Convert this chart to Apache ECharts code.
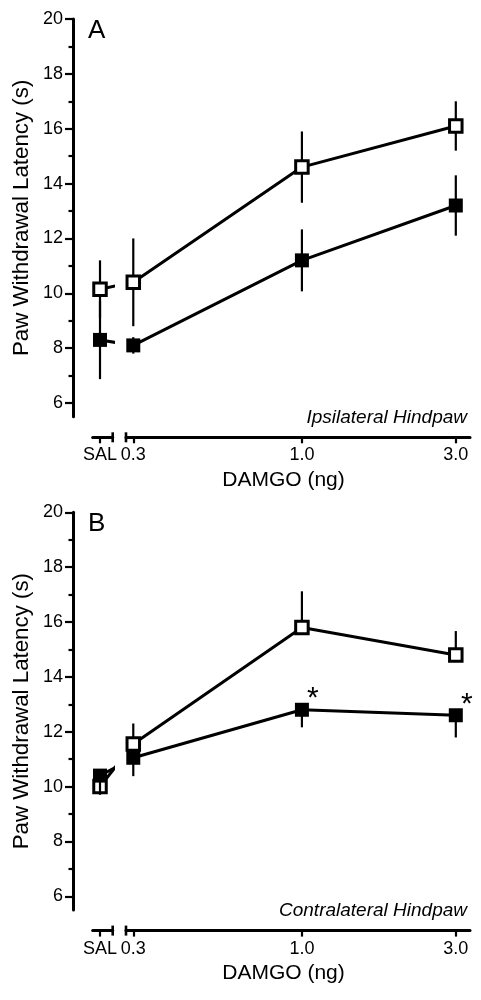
<!DOCTYPE html>
<html><head><meta charset="utf-8">
<script src="https://cdn.jsdelivr.net/npm/echarts@6/dist/echarts.min.js"></script>
<style>html,body{margin:0;padding:0;background:#fff}#c{width:481px;height:1000px}</style>
</head><body><div id="c"></div>
<script>
// ---------- data ----------
const xLabels = ['SAL', '0.3', '1.0', '3.0'];
const doses = [0.3, 1.0, 3.0];
const yTicks = [6, 8, 10, 12, 14, 16, 18, 20];
const yMinorTicks = [7, 9, 11, 13, 15, 17, 19];

// Panel A – Ipsilateral hindpaw (SAL, 0.3, 1.0, 3.0)
const aOpen = [10.15, 10.4, 14.6, 16.1];
const aOpenSem = [1.05, 1.6, 1.3, 0.9];
const aFilled = [8.3, 8.1, 11.2, 13.2];
const aFilledSem = [1.43, 0.3, 1.13, 1.1];

// Panel B – Contralateral hindpaw (SAL, 0.3, 1.0, 3.0)
const bOpen = [10.0, 11.55, 15.8, 14.8];
const bOpenSem = [0.3, 0.75, 1.32, 0.87];
const bFilled = [10.4, 11.05, 12.8, 12.6];
const bFilledSem = [0.7, 0.67, 0.64, 0.81];
const bFilledSig = ['', '', '*', '*'];

// ---------- layout ----------
const FONT = 'Liberation Sans, Arial, sans-serif';
const SAL_POS = 0.2365;           // where SAL sits on the (broken) log axis
const SAL_RANGE = [0.2245, 0.2589];
const DOSE_RANGE = [0.2848, 3.32];
const Y_RANGE = [5.5, 20];
const PLOT_H = 397.7;

const panels = [
  { top: 19, letter: 'A', note: 'Ipsilateral Hindpaw',
    open: aOpen, openSem: aOpenSem, filled: aFilled, filledSem: aFilledSem,
    openDir: 'both', filledDir: 'both', sig: null },
  { top: 512.3, letter: 'B', note: 'Contralateral Hindpaw',
    open: bOpen, openSem: bOpenSem, filled: bFilled, filledSem: bFilledSem,
    openDir: 'up', filledDir: 'down', sig: bFilledSig }
];

const option = {
  animation: false,
  backgroundColor: '#fff',
  textStyle: { fontFamily: FONT, color: '#000' },
  grid: [], xAxis: [], yAxis: [], series: [], title: []
};

function labelFor(v) {
  let best = 0, bd = Infinity;
  doses.forEach((d, i) => { const dd = Math.abs(Math.log(d) - Math.log(v)); if (dd < bd) { bd = dd; best = i; } });
  return xLabels[best + 1];
}

const axisLineStyle = { color: '#000', width: 3 };
const tickStyle = { color: '#000', width: 2.2 };

panels.forEach((p, k) => {
  const gS = 2 * k, gM = 2 * k + 1;
  option.grid.push({ left: 92.7, top: p.top, width: 20, height: PLOT_H, outerBoundsMode: 'none' });
  option.grid.push({ left: 126, top: p.top, width: 344, height: PLOT_H, outerBoundsMode: 'none' });

  // x axes (broken)
  option.xAxis.push({
    gridIndex: gS, type: 'log', logBase: 10, min: SAL_RANGE[0], max: SAL_RANGE[1],
    position: 'bottom', offset: 20.6,
    axisLine: { show: true, onZero: false, symbol: ['none', 'rect'], symbolSize: [10, 2.6], lineStyle: axisLineStyle },
    axisTick: { show: true, customValues: [SAL_POS], length: 6, lineStyle: tickStyle },
    axisLabel: { show: true, customValues: [SAL_POS], formatter: () => xLabels[0], margin: 9, fontSize: 18, color: '#000', fontFamily: FONT },
    splitLine: { show: false }, minorTick: { show: false }, minorSplitLine: { show: false }
  });
  option.xAxis.push({
    gridIndex: gM, type: 'log', logBase: 10, min: DOSE_RANGE[0], max: DOSE_RANGE[1],
    position: 'bottom', offset: 20.6,
    axisLine: { show: true, onZero: false, symbol: ['rect', 'none'], symbolSize: [10, 2.6], lineStyle: axisLineStyle },
    axisTick: { show: true, customValues: doses, length: 6, lineStyle: tickStyle },
    axisLabel: { show: true, customValues: doses, formatter: v => labelFor(v), margin: 9, fontSize: 18, color: '#000', fontFamily: FONT },
    splitLine: { show: false }, minorTick: { show: false }, minorSplitLine: { show: false },
    name: 'DAMGO (ng)', nameLocation: 'middle', nameGap: 32,
    nameTextStyle: { fontSize: 21, color: '#000', fontFamily: FONT, padding: [0, 29, 0, 0] }
  });

  // y axes
  option.yAxis.push({
    gridIndex: gS, type: 'value', min: Y_RANGE[0], max: Y_RANGE[1], position: 'left', offset: 19.7,
    axisLine: { show: true, onZero: false, lineStyle: axisLineStyle },
    axisTick: { show: true, customValues: yTicks, length: 8, lineStyle: tickStyle },
    axisLabel: { show: true, customValues: yTicks, margin: 10, fontSize: 18, color: '#000', fontFamily: FONT },
    splitLine: { show: false },
    name: 'Paw Withdrawal Latency (s)', nameLocation: 'middle', nameGap: 40,
    nameTextStyle: { fontSize: 22.3, color: '#000', fontFamily: FONT }
  });
  option.yAxis.push({
    gridIndex: gS, type: 'value', min: Y_RANGE[0], max: Y_RANGE[1], position: 'left', offset: 19.7,
    axisLine: { show: false },
    axisTick: { show: true, customValues: yMinorTicks, length: 4.5, lineStyle: tickStyle },
    axisLabel: { show: false }, splitLine: { show: false }
  });
  option.yAxis.push({
    gridIndex: gM, type: 'value', min: Y_RANGE[0], max: Y_RANGE[1], show: false,
    splitLine: { show: false }
  });

  const xS = gS, xM = gM, yS = 3 * k, yM = 3 * k + 2;

  function errSeries(xi, yi, rows, dir, z) {
    return {
      type: 'custom', xAxisIndex: xi, yAxisIndex: yi, z: z, silent: true,
      data: rows,
      encode: { x: 0, y: 1 },
      renderItem: (params, api) => {
        const x = api.value(0), y = api.value(1), e = api.value(2);
        const hi = api.coord([x, dir === 'down' ? y : y + e]);
        const lo = api.coord([x, dir === 'up' ? y : y - e]);
        return { type: 'line', shape: { x1: hi[0], y1: hi[1], x2: lo[0], y2: lo[1] },
                 style: { stroke: '#000', lineWidth: 2.2 } };
      }
    };
  }

  function groupSeries(vals, sems, dir, filled, zBase, sig) {
    const sym = filled
      ? { symbol: 'rect', symbolSize: 14, itemStyle: { color: '#000', borderWidth: 0 } }
      : { symbol: 'rect', symbolSize: 12.5, itemStyle: { color: '#fff', borderColor: '#000', borderWidth: 3 } };
    const out = [];
    // error bars
    out.push(errSeries(xM, yM, doses.map((d, i) => [d, vals[i + 1], sems[i + 1]]), dir, zBase));
    out.push(errSeries(xS, yS, [[SAL_POS, vals[0], sems[0]]], dir, zBase));
    // dose-response line with markers
    out.push(Object.assign({
      type: 'line', xAxisIndex: xM, yAxisIndex: yM, z: zBase + 1, clip: true,
      lineStyle: { color: '#000', width: 3 },
      data: doses.map((d, i) => {
        const item = { value: [d, vals[i + 1]] };
        if (sig && sig[i + 1]) {
          item.label = { show: true, formatter: () => sig[i + 1], position: 'inside',
            offset: [11, -11], fontSize: 30, color: '#000', fontFamily: FONT };
        }
        return item;
      }),
      label: { show: false }
    }, JSON.parse(JSON.stringify(sym))));
    // SAL point, its connector is cut at the axis break
    out.push(Object.assign({
      type: 'line', xAxisIndex: xS, yAxisIndex: yS, z: zBase + 1, clip: true,
      lineStyle: { color: '#000', width: 3 },
      data: [{ value: [SAL_POS, vals[0]] }, { value: [doses[0], vals[1]], symbol: 'none' }]
    }, JSON.parse(JSON.stringify(sym))));
    return out;
  }

  option.series.push(...groupSeries(p.open, p.openSem, p.openDir, false, 2, null));
  option.series.push(...groupSeries(p.filled, p.filledSem, p.filledDir, true, 4, p.sig));

  option.title.push({ text: p.letter, left: 88, top: p.top - 1, padding: 0,
    textStyle: { fontSize: 26, fontWeight: 'normal', color: '#000', fontFamily: FONT } });
  option.title.push({ text: p.note, right: 14, top: p.top + 389, padding: 0,
    textStyle: { fontSize: 19, fontStyle: 'italic', fontWeight: 'normal', color: '#000', fontFamily: FONT } });
});

const chart = echarts.init(document.getElementById('c'), null, { renderer: 'canvas' });
chart.setOption(option);
</script>
</body></html>
